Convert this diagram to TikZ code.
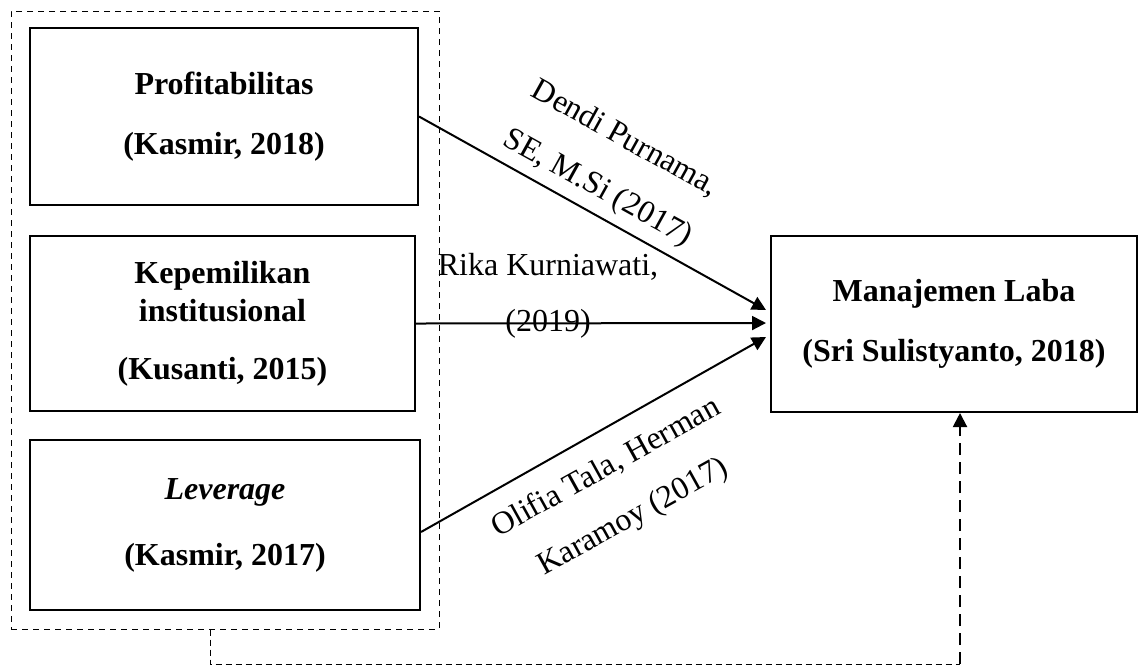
\documentclass[tikz,border=0pt]{standalone}
\usepackage{fontspec}
\setmainfont{Liberation Serif}
\usetikzlibrary{arrows.meta}

\begin{document}
\begin{tikzpicture}[x=0.5pt, y=-0.5pt, line width=1pt,
  var/.style={draw, rectangle, align=center, inner sep=0pt, font=\fontsize{16}{19}\selectfont\bfseries},
  ref/.style={align=center, inner sep=0pt, font=\fontsize{16}{28}\selectfont},
  tip/.style={-{Triangle[length=7pt,width=7pt]}}]
  \useasboundingbox (0,0) rectangle (1138,666);
  % independent variables
  \node[draw, line width=0.5pt, dash pattern=on 3pt off 2.5pt, minimum width=214pt, minimum height=309pt] (grp) at (225,320) {};
  \node[var, minimum width=194pt, minimum height=88.5pt] (prof) at (224,116.5) {Profitabilitas\\[11pt](Kasmir, 2018)};
  \node[var, minimum width=192.5pt, minimum height=87.5pt] (kepem) at (222.5,323.5) {Kepemilikan\\institusional\\[10pt](Kusanti, 2015)};
  \node[var, minimum width=195pt, minimum height=85pt] (lev) at (225,525) {\textit{Leverage}\\[14pt](Kasmir, 2017)};
  % dependent variable
  \node[var, minimum width=183pt, minimum height=88pt] (manlaba) at (954,324) {Manajemen Laba\\[11pt](Sri Sulistyanto, 2018)};
  \draw[tip] (prof.east) -- ([xshift=-2pt,yshift=7pt]manlaba.west);
  \draw[tip] (kepem.east) -- ([xshift=-2pt,yshift=0.5pt]manlaba.west);
  \draw[tip] ([yshift=-3.5pt]lev.east) -- ([xshift=-2pt,yshift=-6.5pt]manlaba.west);
  \node[ref, rotate=-29] (refprof) at (611,164) {Dendi Purnama,\\SE, M.Si (2017)};
  \node[ref] (refkepem) at (548,296) {Rika Kurniawati,\\(2019)};
  \node[ref, rotate=29] (reflev) at (620,493) {Olifia Tala, Herman\\Karamoy (2017)};
  % simultaneous effect
  \coordinate (turn) at (960,664);
  \draw[line width=0.5pt, dash pattern=on 3pt off 2pt] ([xshift=-7.5pt]grp.south) |- (turn);
  \draw[tip, dash pattern=on 6pt off 3.5pt] (turn) -- (turn |- manlaba.south);
\end{tikzpicture}
\end{document}
